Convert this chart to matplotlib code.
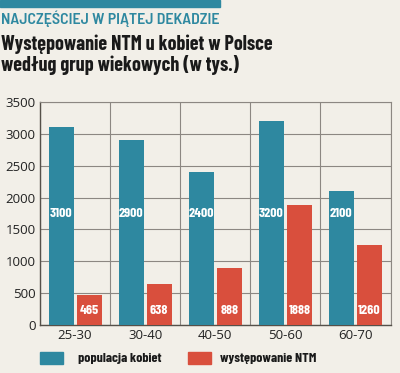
import matplotlib
matplotlib.use("Agg")
import matplotlib.pyplot as plt
from matplotlib.patches import Rectangle
import numpy as np

categories = ["25-30", "30-40", "40-50", "50-60", "60-70"]
populacja = [3100, 2900, 2400, 3200, 2100]
ntm = [465, 638, 888, 1888, 1260]
yticks = [0, 500, 1000, 1500, 2000, 2500, 3000, 3500]

BG = "#f2efe8"
TEAL = "#2e88a0"
RED = "#d94f3d"
GRID = "#8c8782"
COND = ["Barlow Condensed", "DejaVu Sans"]
SEMI = ["Barlow Semi Condensed", "DejaVu Sans"]
TICKF = ["Open Sans", "DejaVu Sans"]

fig = plt.figure(figsize=(4.0, 3.73), dpi=100, facecolor=BG)
ax = fig.add_axes([40/400, 1-325/373, 350.5/400, 223/373], facecolor=BG)

x = np.arange(len(categories))
w = 0.357
ax.bar(x - 0.2, populacja, width=w, color=TEAL, zorder=3)
ax.bar(x + 0.2, ntm, width=w, color=RED, zorder=3)

lab = dict(color="white", fontsize=10, fontweight="bold", family=COND,
           ha="center", va="center", zorder=4)
for xi, v in zip(x, populacja):
    ax.text(xi - 0.2, 1750, str(v), **lab)
for xi, v in zip(x, ntm):
    ax.text(xi + 0.2, 235, str(v), **lab)

ax.set_xlim(-0.5, len(categories) - 0.5)
ax.set_ylim(0, 3500)
ax.set_yticks(yticks)
ax.set_xticks(x)
ax.set_xticklabels(categories)
for k in range(len(categories) + 1):
    ax.axvline(k - 0.5, color=GRID, lw=0.8, zorder=1)
for t in yticks:
    ax.axhline(t, color=GRID, lw=0.8, zorder=1)
for s in ax.spines.values():
    s.set_color(GRID)
    s.set_linewidth(0.8)
ax.spines["left"].set_color("#555049")
ax.spines["bottom"].set_color("#555049")
ax.spines["left"].set_linewidth(1.0)
ax.spines["bottom"].set_linewidth(1.0)
ax.tick_params(length=0, labelsize=9.5, colors="#222222", pad=3)
for t in ax.get_xticklabels() + ax.get_yticklabels():
    t.set_family(TICKF)

# header
fig.patches.append(Rectangle((0, 1-7/373), 220/400, 7/373, transform=fig.transFigure,
                             color=TEAL, zorder=5))
fig.text(1/400, 1-18.5/373, "NAJCZĘŚCIEJ W PIĄTEJ DEKADZIE", color=TEAL, fontsize=11.5,
         fontweight="semibold", family=SEMI, va="center")
fig.text(1/400, 1-44/373, "Występowanie NTM u kobiet w Polsce", color="#1a1a1a",
         fontsize=14.4, fontweight="bold", family=COND, va="center")
fig.text(1/400, 1-65/373, "według grup wiekowych (w tys.)", color="#1a1a1a",
         fontsize=14.4, fontweight="bold", family=COND, va="center")

# legend
fig.patches.append(Rectangle((40/400, 1-364/373), 23/400, 12/373, transform=fig.transFigure,
                             color=TEAL))
fig.patches.append(Rectangle((188/400, 1-364/373), 23/400, 12/373, transform=fig.transFigure,
                             color=RED))
fig.text(78/400, 1-358/373, "populacja kobiet", color="#1a1a1a", fontsize=10,
         fontweight="bold", family=COND, va="center")
fig.text(220/400, 1-358/373, "występowanie NTM", color="#1a1a1a", fontsize=10,
         fontweight="bold", family=COND, va="center")

fig.savefig("out.png", dpi=100, facecolor=BG)
